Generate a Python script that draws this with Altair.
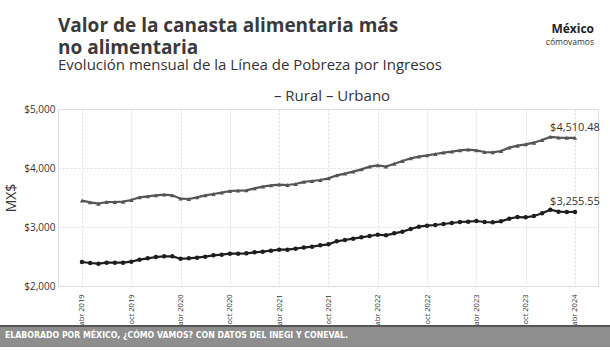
import json
import altair as alt
import pandas as pd

# ---------------- data ----------------
nombres_mes = ["ene", "feb", "mar", "abr", "may", "jun", "jul", "ago", "sep", "oct", "nov", "dic"]
fechas = pd.date_range("2019-04-01", "2024-04-01", freq="MS")
meses = [f"{nombres_mes[d.month - 1]} {d.year}" for d in fechas]

urbano = [3446, 3418, 3395, 3424, 3424, 3429, 3458, 3503, 3520, 3537, 3548, 3537,
          3480, 3475, 3503, 3537, 3559, 3582, 3610, 3616, 3621, 3655, 3684, 3706,
          3718, 3712, 3729, 3765, 3780, 3797, 3825, 3876, 3904, 3938, 3977, 4023,
          4045, 4023, 4073, 4119, 4164, 4192, 4215, 4237, 4260, 4277, 4299, 4311,
          4299, 4271, 4266, 4288, 4345, 4378, 4401, 4429, 4475, 4528, 4514, 4512, 4510.48]

rural = [2407, 2390, 2379, 2395, 2395, 2395, 2412, 2446, 2469, 2492, 2503, 2503,
         2463, 2469, 2480, 2497, 2520, 2531, 2548, 2548, 2554, 2571, 2582, 2599,
         2616, 2616, 2633, 2652, 2667, 2689, 2706, 2757, 2780, 2802, 2825, 2847,
         2870, 2859, 2893, 2921, 2966, 3006, 3023, 3034, 3051, 3068, 3085, 3090,
         3102, 3085, 3079, 3096, 3141, 3169, 3164, 3186, 3232, 3294, 3260, 3254, 3255.55]

series = ["Rural", "Urbano"]
etiquetas_x = ["abr 2019", "oct 2019", "abr 2020", "oct 2020", "abr 2021", "oct 2021",
               "abr 2022", "oct 2022", "abr 2023", "oct 2023", "abr 2024"]
ticks_y = [2000, 3000, 4000, 5000]

titulo = ["Valor de la canasta alimentaria más", "no alimentaria"]
subtitulo = "Evolución mensual de la Línea de Pobreza por Ingresos"
leyenda = "– Rural – Urbano"
fuente = "ELABORADO POR MÉXICO, ¿CÓMO VAMOS? CON DATOS DEL INEGI Y CONEVAL."

# ---------------- table ----------------
rows = []
for serie, vals in (("Rural", rural), ("Urbano", urbano)):
    for i, (m, v) in enumerate(zip(meses, vals)):
        rows.append({"i": i, "mes": m, "serie": serie, "valor": v})
df = pd.DataFrame(rows)
ultimo = len(meses) - 1

tick_pos = [meses.index(t) for t in etiquetas_x]
label_expr = f"{json.dumps(etiquetas_x)}[indexof({json.dumps(tick_pos)}, datum.value)]"

FONT = "Open Sans"

x = alt.X("i:Q",
          scale=alt.Scale(domain=[-2.92, 62.8], nice=False, zero=False),
          axis=alt.Axis(values=tick_pos, labelExpr=label_expr, labelAngle=270,
                        labelFontSize=7.5, labelColor="#333", labelPadding=8,
                        ticks=False, domain=False, grid=True, gridColor="#dedede",
                        gridDash=[2, 2], title=None, labelFont=FONT))
y = alt.Y("valor:Q",
          scale=alt.Scale(domain=[2000, 5000], nice=False, zero=False),
          axis=alt.Axis(values=ticks_y, format="$,.0f", labelFontSize=10,
                        labelColor="#333", labelPadding=3, ticks=False, domain=False,
                        grid=True, gridColor="#dedede", gridDash=[2, 2],
                        title="MX$", titleFontSize=14, titleFontWeight="normal",
                        titleColor="#333", titlePadding=5, labelFont=FONT, titleFont=FONT))

base = alt.Chart(df)

lineas = base.mark_line(strokeWidth=2.2).encode(
    x=x, y=y,
    color=alt.Color("serie:N", scale=alt.Scale(domain=series, range=["#1e1e1e", "#555555"]),
                    legend=None),
    detail="serie:N",
)

puntos = base.mark_point(filled=True, opacity=1, size=20).encode(
    x=x, y=y,
    shape=alt.Shape("serie:N", scale=alt.Scale(domain=series, range=["circle", "triangle-up"]),
                    legend=None),
    color=alt.Color("serie:N", scale=alt.Scale(domain=series, range=["#3a3a3a", "#8a8a8a"]),
                    legend=None),
)

etiquetas = base.transform_filter(alt.datum.i == ultimo).mark_text(
    dy=-10, fontSize=11, color="#333", font=FONT
).encode(x=x, y=y, text=alt.Text("valor:Q", format="$,.2f"))


def texto(t, xv, yv, **kw):
    return alt.Chart(pd.DataFrame({"t": [t]})).mark_text(
        baseline="alphabetic", **kw
    ).encode(x=alt.value(xv), y=alt.value(yv), text="t:N")


tit1 = texto(titulo[0], 0, -77, fontSize=19, fontWeight="bold", color="#3a3a3a",
             font=FONT, align="left")
tit2 = texto(titulo[1], 0, -55, fontSize=19, fontWeight="bold", color="#3a3a3a",
             font=FONT, align="left")
sub = texto(subtitulo, 0, -39, fontSize=15, color="#333", font=FONT, align="left")
ley = texto(leyenda, 274, -8, fontSize=15, color="#333", font=FONT, align="center")
logo1 = texto("México", 536, -76, fontSize=12, fontWeight="bold", color="#222",
              font=FONT, align="right")
logo2 = texto("cómovamos", 536, -64, fontSize=8.5, color="#333", font=FONT, align="right")

franja = alt.Chart(pd.DataFrame({"t": [fuente]})).mark_rect(color="#8e8e8e").encode(
    x=alt.value(-58), x2=alt.value(552), y=alt.value(217), y2=alt.value(238))
borde = alt.Chart(pd.DataFrame({"t": [fuente]})).mark_rule(color="#555555", strokeWidth=2).encode(
    x=alt.value(-58), x2=alt.value(552), y=alt.value(217))
texto_fuente = texto(fuente, -53, 229, fontSize=8.7, fontWeight="bold", color="white",
                     font="DejaVu Sans Condensed, Liberation Sans, sans-serif", align="left")

chart = alt.layer(
    lineas, puntos, etiquetas, tit1, tit2, sub, ley, logo1, logo2, franja, borde, texto_fuente
).properties(
    width=540, height=177,
    autosize=alt.AutoSizeParams(type="none"),
    padding={"left": 58, "top": 109, "right": 12, "bottom": 65},
).configure_view(strokeWidth=0).configure(background="white")

chart.save("out.html", embed_options={"renderer": "svg", "actions": False})
